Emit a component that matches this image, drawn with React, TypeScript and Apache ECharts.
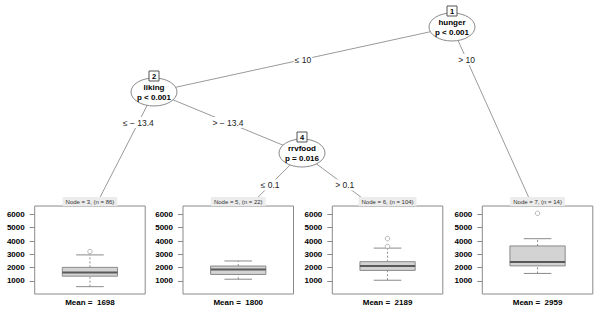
import React, { useEffect, useRef } from "react";
import * as echarts from "echarts";

// ---- data (terminal nodes, left to right) ----
const nodeIds = [3, 5, 6, 7];
const nodeN = [86, 22, 104, 14];
const nodeMeans = [1698, 1800, 2189, 2959];
const whiskerLow = [570, 1130, 1053, 1564];
const q1 = [1358, 1487, 1792, 2130];
const medians = [1640, 1868, 2120, 2423];
const q3 = [2020, 2120, 2447, 3630];
const whiskerHigh = [2957, 2500, 3468, 4174];
const outliers: number[][] = [[3209], [], [3590, 4176], [6080]];
const yTicks = [1000, 2000, 3000, 4000, 5000, 6000];

// ---- inner nodes and edge labels ----
const innerIds = [1, 2, 4];
const innerVars = ["hunger", "liking", "rrvfood"];
const innerP = ["p < 0.001", "p < 0.001", "p = 0.016"];
const edgeLabels = ["\u2264 10", "> 10", "\u2264 \u2212 13.4", "> \u2212 13.4", "\u2264 0.1", "> 0.1"];

const FONT = "'Liberation Sans', Arial, Helvetica, sans-serif";

// layout
const panelLefts = [34.7, 183, 332.3, 482.3];
const panelWidth = 110.5;
const panelTop = 206;
const panelHeight = 88;
const termAnchorY = 217; // terminal node anchor (hidden beneath panel)
const innerPos: [number, number][] = [
  [452, 27],
  [154, 92],
  [302, 153],
];
const RX = 23;
const RY = 14;

export default function App() {
  const ref = useRef<HTMLDivElement>(null);
  useEffect(() => {
    if (!ref.current) return;
    const chart = echarts.init(ref.current, undefined, { renderer: "svg" });

    const allVals = [...whiskerLow, ...whiskerHigh, ...outliers.flat()];
    const dMin = Math.min(...allVals);
    const dMax = Math.max(...allVals);
    const ext = 0.1 * (dMax - dMin);
    const yMin = dMin - ext;
    const yMax = dMax + ext;

    const centers = panelLefts.map((l) => l + panelWidth / 2);

    const grids = panelLefts.map((l) => ({
      left: l,
      top: panelTop,
      width: panelWidth,
      height: panelHeight,
      show: true,
      borderColor: "#8a8a8a",
      borderWidth: 1,
      backgroundColor: "#fff",
    }));
    const xAxes = panelLefts.map((_, i) => ({
      type: "value" as const,
      gridIndex: i,
      min: 0,
      max: 1,
      show: false,
    }));
    const yAxes = panelLefts.map((_, i) => ({
      type: "value" as const,
      gridIndex: i,
      min: yMin,
      max: yMax,
      splitLine: { show: false },
      axisLine: { show: false },
      axisTick: {
        show: true,
        length: 5,
        customValues: yTicks,
        lineStyle: { color: "#8a8a8a", width: 1 },
      },
      axisLabel: {
        customValues: yTicks,
        formatter: (v: number) => String(v),
        fontSize: 8,
        fontWeight: "bold",
        fontFamily: FONT,
        color: "#000",
        margin: 10,
      },
    }));

    const boxSeries = panelLefts.map((_, i) => ({
      type: "custom" as const,
      xAxisIndex: i,
      yAxisIndex: i,
      data: [[0.5, whiskerLow[i], q1[i], medians[i], q3[i], whiskerHigh[i]]],
      renderItem: (params: any, api: any) => {
        const x = api.value(0);
        const pLo = api.coord([x, api.value(1)]);
        const pQ1 = api.coord([x, api.value(2)]);
        const pMed = api.coord([x, api.value(3)]);
        const pQ3 = api.coord([x, api.value(4)]);
        const pHi = api.coord([x, api.value(5)]);
        const w = api.size([0.5, 0])[0];
        const cx = pMed[0];
        const grey = "#8a8a8a";
        return {
          type: "group",
          children: [
            {
              type: "line",
              shape: { x1: cx, y1: pLo[1], x2: cx, y2: pQ1[1] },
              style: { stroke: grey, lineWidth: 1, lineDash: [2, 2] },
            },
            {
              type: "line",
              shape: { x1: cx, y1: pQ3[1], x2: cx, y2: pHi[1] },
              style: { stroke: grey, lineWidth: 1, lineDash: [2, 2] },
            },
            {
              type: "line",
              shape: { x1: cx - w / 4, y1: pLo[1], x2: cx + w / 4, y2: pLo[1] },
              style: { stroke: grey, lineWidth: 1 },
            },
            {
              type: "line",
              shape: { x1: cx - w / 4, y1: pHi[1], x2: cx + w / 4, y2: pHi[1] },
              style: { stroke: grey, lineWidth: 1 },
            },
            {
              type: "rect",
              shape: { x: cx - w / 2, y: pQ3[1], width: w, height: pQ1[1] - pQ3[1] },
              style: { fill: "#d3d3d3", stroke: grey, lineWidth: 1 },
            },
            {
              type: "line",
              shape: { x1: cx - w / 2, y1: pMed[1], x2: cx + w / 2, y2: pMed[1] },
              style: { stroke: "#5a5a5a", lineWidth: 2 },
            },
          ],
        };
      },
    }));

    const outlierSeries = panelLefts.map((_, i) => ({
      type: "scatter" as const,
      xAxisIndex: i,
      yAxisIndex: i,
      symbol: "circle",
      symbolSize: 4.5,
      itemStyle: { color: "#fff", borderColor: "#8a8a8a", borderWidth: 0.8 },
      data: outliers[i].map((v) => [0.5, v]),
    }));

    // ---- tree graphics ----
    const termAnchor: [number, number][] = centers.map((c) => [c, termAnchorY]);
    const edges: { from: [number, number]; to: [number, number]; labelY: number; terminal: boolean }[] = [
      { from: innerPos[0], to: innerPos[1], labelY: (innerPos[0][1] + innerPos[1][1]) / 2, terminal: false },
      { from: innerPos[0], to: termAnchor[3], labelY: (innerPos[0][1] + innerPos[1][1]) / 2, terminal: true },
      { from: innerPos[1], to: termAnchor[0], labelY: (innerPos[1][1] + innerPos[2][1]) / 2, terminal: true },
      { from: innerPos[1], to: innerPos[2], labelY: (innerPos[1][1] + innerPos[2][1]) / 2, terminal: false },
      { from: innerPos[2], to: termAnchor[1], labelY: (innerPos[2][1] + termAnchorY) / 2, terminal: true },
      { from: innerPos[2], to: termAnchor[2], labelY: (innerPos[2][1] + termAnchorY) / 2, terminal: true },
    ];

    const lineX = (e: { from: [number, number]; to: [number, number] }, y: number) =>
      e.from[0] + ((e.to[0] - e.from[0]) * (y - e.from[1])) / (e.to[1] - e.from[1]);

    const graphics: any[] = [];
    edges.forEach((e, k) => {
      const endY = e.terminal ? panelTop : e.to[1];
      const endX = e.terminal ? lineX(e, panelTop) : e.to[0];
      graphics.push({
        type: "line",
        z: 1,
        shape: { x1: e.from[0], y1: e.from[1], x2: endX, y2: endY },
        style: { stroke: "#9a9a9a", lineWidth: 1 },
        silent: true,
      });
      graphics.push({
        type: "text",
        z: 3,
        x: lineX(e, e.labelY),
        y: e.labelY,
        style: {
          text: edgeLabels[k],
          fontSize: 8.5,
          fontFamily: FONT,
          fill: "#222",
          align: "center",
          verticalAlign: "middle",
          backgroundColor: "#fff",
          padding: [1, 1],
        },
      });
    });

    innerPos.forEach((p, k) => {
      graphics.push({
        type: "ellipse",
        z: 5,
        shape: { cx: p[0], cy: p[1], rx: RX, ry: RY },
        style: { fill: "#fff", stroke: "#8a8a8a", lineWidth: 1 },
      });
      graphics.push({
        type: "text",
        z: 6,
        x: p[0],
        y: p[1] - 4.5,
        style: {
          text: innerVars[k],
          fontSize: 8,
          fontWeight: "bold",
          fontFamily: FONT,
          fill: "#000",
          align: "center",
          verticalAlign: "middle",
        },
      });
      graphics.push({
        type: "text",
        z: 6,
        x: p[0],
        y: p[1] + 5,
        style: {
          text: innerP[k],
          fontSize: 8,
          fontWeight: "bold",
          fontFamily: FONT,
          fill: "#000",
          align: "center",
          verticalAlign: "middle",
        },
      });
      graphics.push({
        type: "rect",
        z: 7,
        shape: { x: p[0] - 5, y: p[1] - RY - 7, width: 10, height: 10 },
        style: { fill: "#fff", stroke: "#555", lineWidth: 1 },
      });
      graphics.push({
        type: "text",
        z: 8,
        x: p[0],
        y: p[1] - RY - 2,
        style: {
          text: String(innerIds[k]),
          fontSize: 7.5,
          fontWeight: "bold",
          fontFamily: FONT,
          fill: "#000",
          align: "center",
          verticalAlign: "middle",
        },
      });
    });

    centers.forEach((c, i) => {
      graphics.push({
        type: "text",
        z: 8,
        x: c,
        y: panelTop - 4.5,
        style: {
          text: `Node = ${nodeIds[i]}, (n = ${nodeN[i]})`,
          fontSize: 6,
          fontFamily: FONT,
          fill: "#333",
          align: "center",
          verticalAlign: "middle",
          backgroundColor: "#ececec",
          padding: [1.5, 3],
        },
      });
      graphics.push({
        type: "text",
        z: 8,
        x: c,
        y: panelTop + panelHeight + 8,
        style: {
          text: `Mean =  ${nodeMeans[i]}`,
          fontSize: 8,
          fontWeight: "bold",
          fontFamily: FONT,
          fill: "#000",
          align: "center",
          verticalAlign: "middle",
        },
      });
    });

    chart.setOption({
      animation: false,
      backgroundColor: "#fff",
      grid: grids,
      xAxis: xAxes,
      yAxis: yAxes,
      series: [...boxSeries, ...outlierSeries],
      graphic: graphics,
    });
    return () => chart.dispose();
  }, []);
  return (
    <div
      ref={ref}
      style={{ position: "fixed", left: 0, top: 0, width: 601, height: 312 }}
    />
  );
}
